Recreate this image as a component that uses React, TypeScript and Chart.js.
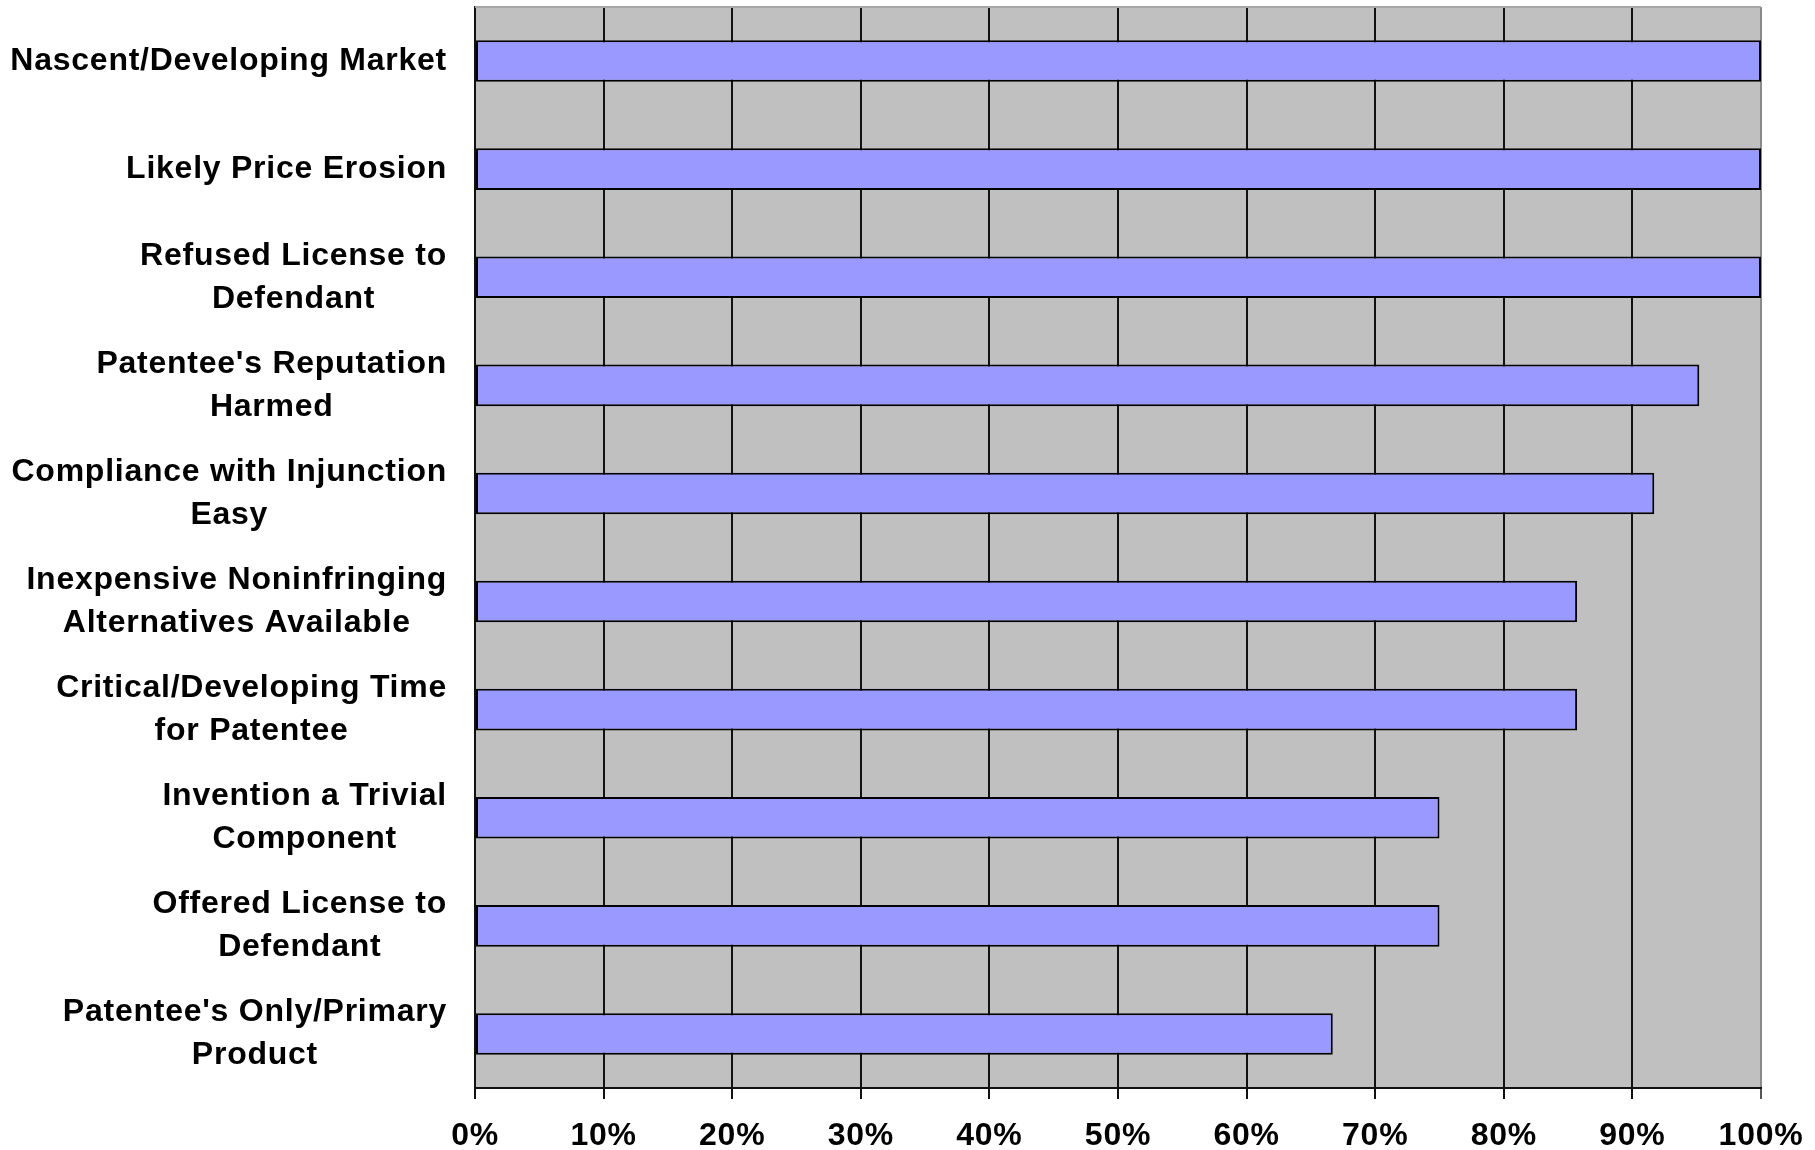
import React, { useEffect, useRef } from 'react';
import { Chart, registerables } from 'chart.js';

Chart.register(...registerables);

const categories: string[] = [
  'Nascent/Developing Market',
  'Likely Price Erosion',
  'Refused License to\nDefendant',
  "Patentee's Reputation\nHarmed",
  'Compliance with Injunction\nEasy',
  'Inexpensive Noninfringing\nAlternatives Available',
  'Critical/Developing Time\nfor Patentee',
  'Invention a Trivial\nComponent',
  'Offered License to\nDefendant',
  "Patentee's Only/Primary\nProduct",
];

const values: number[] = [100, 100, 100, 95.2, 91.7, 85.7, 85.7, 75, 75, 66.7];

const xTicksMin = 0;
const xTicksMax = 100;
const xTickStep = 10;

const W = 1815;
const H = 1150;
const PLOT_LEFT = 475;
const PLOT_RIGHT = 1761;
const PLOT_TOP = 7;
const PLOT_BOTTOM = 1088;
const LABEL_PAD = 28;
const LABEL_SIZE = 32;
const LABEL_LINE = 43;

const FONT = "'Liberation Sans', Arial, sans-serif";
const SPACING = '0.75px';

const bgPlugin = {
  id: 'plotBg',
  beforeInit(chart: any) {
    chart.ctx.letterSpacing = SPACING;
  },
  beforeUpdate(chart: any) {
    chart.ctx.letterSpacing = SPACING;
  },
  beforeDraw(chart: any) {
    const { ctx, chartArea } = chart;
    ctx.letterSpacing = SPACING;
    ctx.save();
    ctx.fillStyle = '#ffffff';
    ctx.fillRect(0, 0, chart.width, chart.height);
    ctx.fillStyle = '#c0c0c0';
    ctx.fillRect(chartArea.left, chartArea.top, chartArea.right - chartArea.left, chartArea.bottom - chartArea.top);
    ctx.restore();
  },
  beforeDatasetsDraw(chart: any) {
    const { ctx, chartArea } = chart;
    ctx.save();
    ctx.strokeStyle = '#a6a6a6';
    ctx.lineWidth = 2;
    ctx.beginPath();
    ctx.moveTo(chartArea.left, chartArea.top);
    ctx.lineTo(chartArea.right, chartArea.top);
    ctx.stroke();
    ctx.restore();
  },
  afterDraw(chart: any) {
    // Category labels: block right-aligned to the axis, lines centred within the block
    const { ctx } = chart;
    const yScale = chart.scales.y;
    ctx.save();
    ctx.letterSpacing = SPACING;
    ctx.font = `bold ${LABEL_SIZE}px ${FONT}`;
    ctx.fillStyle = '#000000';
    ctx.textAlign = 'center';
    ctx.textBaseline = 'middle';
    const right = yScale.right - LABEL_PAD;
    (yScale.getLabels() as any[]).forEach((label: any, i: number) => {
      const lines: string[] = Array.isArray(label) ? label : [String(label)];
      const widths = lines.map((l) => ctx.measureText(l).width);
      const blockW = Math.max(...widths);
      const cx = right - blockW / 2;
      const cy = yScale.getPixelForTick(i);
      const y0 = cy - ((lines.length - 1) * LABEL_LINE) / 2;
      lines.forEach((l, j) => ctx.fillText(l, cx, y0 + j * LABEL_LINE));
    });
    ctx.restore();
  },
};

export default function App() {
  const ref = useRef<HTMLCanvasElement | null>(null);

  useEffect(() => {
    if (!ref.current) return;
    const chart = new Chart(ref.current, {
      type: 'bar',
      data: {
        labels: categories.map((c) => c.split('\n')),
        datasets: [
          {
            data: values,
            backgroundColor: '#9999ff',
            borderColor: '#000000',
            borderWidth: 2,
            borderSkipped: false,
            barPercentage: 0.385,
            categoryPercentage: 1,
          },
        ],
      },
      options: {
        indexAxis: 'y',
        animation: false,
        responsive: false,
        devicePixelRatio: 1,
        layout: {
          padding: { top: PLOT_TOP, right: W - PLOT_RIGHT, bottom: 0, left: 0 },
        },
        plugins: {
          legend: { display: false },
          tooltip: { enabled: false },
        },
        scales: {
          x: {
            type: 'linear',
            position: 'bottom',
            min: xTicksMin,
            max: xTicksMax,
            afterFit(scale: any) {
              scale.height = H - PLOT_BOTTOM;
              scale.paddingLeft = 0;
              scale.paddingRight = 0;
            },
            ticks: {
              stepSize: xTickStep,
              callback: (v: any) => `${v}%`,
              color: '#000000',
              font: { family: FONT, size: 32, weight: 'bold' },
              padding: 18,
              maxRotation: 0,
              autoSkip: false,
            },
            grid: {
              color: (ctx: any) => (ctx.tick && ctx.tick.value === 100 ? '#8a8a8a' : '#111111'),
              lineWidth: 2,
              drawTicks: true,
              tickLength: 11,
              tickColor: (ctx: any) => (ctx.tick && ctx.tick.value === 100 ? '#555555' : '#111111'),
            },
            border: { display: true, color: '#111111', width: 2 },
          },
          y: {
            type: 'category',
            position: 'left',
            afterFit(scale: any) {
              scale.width = PLOT_LEFT;
              scale.paddingTop = 0;
              scale.paddingBottom = 0;
            },
            ticks: {
              display: false,
              autoSkip: false,
            },
            grid: { display: false, drawTicks: false },
            border: { display: true, color: '#111111', width: 2 },
          },
        },
      },
      plugins: [bgPlugin],
    });
    return () => chart.destroy();
  }, []);

  return (
    <div style={{ position: 'absolute', left: 0, top: 0, width: W, height: H, background: '#fff' }}>
      <canvas ref={ref} width={W} height={H} style={{ width: W, height: H, display: 'block' }} />
    </div>
  );
}
